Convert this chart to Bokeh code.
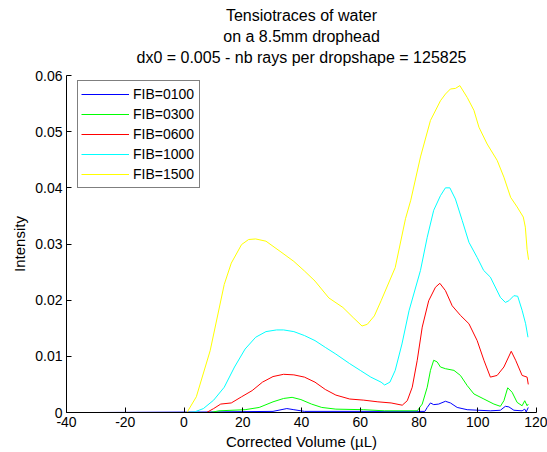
from bokeh.plotting import figure
from bokeh.models import (Range1d, FixedTicker, Legend, LegendItem, Title,
                          CustomJSTickFormatter)
from bokeh.embed import file_html
from bokeh.resources import INLINE

# ---------------- data ----------------
title_lines = ["Tensiotraces of water",
               "on a 8.5mm drophead",
               "dx0 = 0.005 - nb rays per dropshape = 125825"]
x_label = "Corrected Volume (\u00b5L)"
y_label = "Intensity"
x_ticks = [-40, -20, 0, 20, 40, 60, 80, 100, 120]
y_ticks = [0, 0.01, 0.02, 0.03, 0.04, 0.05, 0.06]

series_names = ["FIB=0100", "FIB=0300", "FIB=0600", "FIB=1000", "FIB=1500"]
series_colors = ["#0000ff", "#00ff00", "#ff0000", "#00ffff", "#ffff00"]

x_0100 = [-30, 10, 30.3, 35, 37.4, 41, 82, 82.8, 83.9, 85, 86.7, 89, 90.7, 93,
          96.4, 104.3, 107.7, 109.4, 110.6, 112.3, 115.1, 116, 116.5, 117.2]
y_0100 = [0, 0.0001, 0.0002, 0.0007, 0.0005, 0.0002, 0.0002, 0.0009, 0.0017,
          0.0014, 0.0015, 0.002, 0.0017, 0.0009, 0.0005, 0.0003, 0.0004, 0.0011,
          0.001, 0.0004, 0.0003, 0.0006, 0.0001, 0.0009]

x_0300 = [-30, 9, 11.9, 20.8, 25.6, 30.3, 33.9, 36.8, 39.8, 43.4, 46.9, 51.7,
          61.2, 68.3, 79.4, 81.1, 82.8, 83.9, 85, 86.2, 87.3, 89, 91.9, 94.1,
          96.4, 98.7, 102.1, 105.5, 107.7, 108.9, 110.2, 111.7, 113.4, 115.1,
          116, 116.8, 117.2]
y_0300 = [0, 0, 0.0003, 0.0005, 0.0009, 0.0019, 0.0025, 0.0027, 0.0023, 0.0015,
          0.0009, 0.0006, 0.0005, 0.0003, 0.0003, 0.0015, 0.0045, 0.0075, 0.0093,
          0.009, 0.0081, 0.0078, 0.0075, 0.0066, 0.0048, 0.0033, 0.0024, 0.0015,
          0.0011, 0.0021, 0.0044, 0.0036, 0.0018, 0.0012, 0.0021, 0.0012, 0.0015]

x_0600 = [-30, 7.7, 10.1, 12.5, 16.1, 19.6, 23.2, 26.7, 30.3, 33.9, 37.4, 41,
          44.6, 48.1, 51.7, 56.4, 61.2, 66, 70.5, 74.3, 76, 77.7, 79.4, 81.1,
          83.3, 85.6, 87.1, 89, 91.3, 94.1, 97, 99.8, 102.1, 104.3, 106.6, 108.9,
          111.4, 112.9, 115.1, 116.8, 117.2]
y_0600 = [0, 0, 0.0007, 0.0015, 0.0017, 0.0028, 0.0039, 0.0054, 0.0064, 0.0068,
          0.0067, 0.0063, 0.0054, 0.0041, 0.0031, 0.0024, 0.0022, 0.0019, 0.0017,
          0.0013, 0.0021, 0.0045, 0.0093, 0.0152, 0.0199, 0.0223, 0.023, 0.0217,
          0.019, 0.0173, 0.0158, 0.0128, 0.0093, 0.0063, 0.0066, 0.0081, 0.0109,
          0.0093, 0.0066, 0.0063, 0.005]

x_1000 = [-30, 1, 3.6, 6.6, 10.1, 13.7, 17.2, 20.8, 24.4, 27.9, 31.5, 33.9, 37.4,
          41, 44.6, 48.1, 51.7, 56.4, 60, 63.6, 67.1, 68.3, 70.1, 71.9, 74.2,
          76.6, 80.5, 82.8, 85, 87.3, 89, 90.5, 92.4, 94.7, 97, 99.8, 102, 104.3,
          107.7, 109.4, 110.6, 112.3, 113.6, 115.1, 116.3, 117.1]
y_1000 = [0, 0, 0.0001, 0.0007, 0.0022, 0.0045, 0.0081, 0.0113, 0.0134, 0.0144,
          0.0147, 0.0147, 0.0144, 0.0137, 0.0128, 0.0116, 0.0104, 0.0087, 0.0075,
          0.0063, 0.0054, 0.0049, 0.0054, 0.0075, 0.0122, 0.0181, 0.0253, 0.0312,
          0.036, 0.0386, 0.04, 0.04, 0.038, 0.0342, 0.0303, 0.0276, 0.0253,
          0.0241, 0.0205, 0.0196, 0.0199, 0.0208, 0.0207, 0.0182, 0.0158, 0.0134]

x_1500 = [-30, 1, 4.2, 8.9, 13.7, 16.1, 19.6, 22, 24.4, 27.9, 32.7, 37.4, 41,
          44.6, 49.3, 54.1, 57.6, 60.6, 62.4, 64.8, 67.1, 71.9, 75.4, 77.2, 80.5,
          83.9, 87.3, 89, 90.7, 92.4, 93.9, 96.4, 98.7, 100.4, 103.2, 106.6,
          108.9, 111.2, 113.4, 115.5, 116.2, 116.8, 117.3]
y_1500 = [0, 0, 0.0028, 0.011, 0.0228, 0.0266, 0.0299, 0.0308, 0.0309, 0.0305,
          0.0287, 0.0269, 0.0252, 0.0234, 0.0204, 0.0187, 0.0169, 0.0154, 0.0157,
          0.0172, 0.0199, 0.0258, 0.0345, 0.0378, 0.0455, 0.052, 0.0555, 0.0567,
          0.0576, 0.0577, 0.0582, 0.0561, 0.0538, 0.0508, 0.0478, 0.0449, 0.0419,
          0.0383, 0.0366, 0.0348, 0.033, 0.029, 0.0272]

xs = [x_0100, x_0300, x_0600, x_1000, x_1500]
ys = [y_0100, y_0300, y_0600, y_1000, y_1500]

FONT = "Liberation Sans"

p = figure(width=547, height=452, output_backend="svg", toolbar_location=None,
           x_range=Range1d(-40, 120), y_range=Range1d(0, 0.06),
           min_border_left=66, min_border_right=11, min_border_top=75,
           min_border_bottom=40, title=title_lines[0])
p.outline_line_color = None
p.grid.visible = False
p.background_fill_color = "white"
p.border_fill_color = "white"

# titles: p.title is the outermost line; lines added later stack outward
p.title.align = "center"
p.title.text_font = FONT
p.title.text_font_size = "16px"
p.title.text_font_style = "normal"
p.title.text_color = "#000000"
p.title.standoff = 2
# small spacer panel between the frame and the last title line
p.add_layout(Title(text=" ", text_font_size="1px", standoff=6), "above")
for line in [title_lines[2], title_lines[1]]:
    p.add_layout(Title(text=line, align="center", text_font=FONT,
                       text_font_size="16px", text_font_style="normal",
                       text_color="#000000", standoff=2), "above")

for ax in (p.xaxis[0], p.yaxis[0]):
    ax.axis_line_color = "black"
    ax.major_tick_line_color = "black"
    ax.minor_tick_line_color = None
    ax.major_tick_in = 5
    ax.major_tick_out = 0
    ax.major_label_text_font = FONT
    ax.major_label_text_font_size = "14px"
    ax.major_label_text_color = "black"
    ax.major_label_standoff = 4
    ax.axis_label_text_font = FONT
    ax.axis_label_text_font_size = "15px"
    ax.axis_label_text_font_style = "normal"
    ax.axis_label_text_color = "black"

p.xaxis.ticker = FixedTicker(ticks=x_ticks)
p.yaxis.ticker = FixedTicker(ticks=y_ticks)
p.xaxis.formatter = CustomJSTickFormatter(code="return String(tick);")
p.yaxis.formatter = CustomJSTickFormatter(
    code="return tick == 0 ? '0' : tick.toFixed(2);")
p.xaxis.axis_label = x_label
p.yaxis.axis_label = y_label
p.xaxis.axis_label_standoff = 3
p.yaxis.axis_label_standoff = 4

items = []
for name, color, x, y in zip(series_names, series_colors, xs, ys):
    r = p.line(x, y, line_color=color, line_width=1)
    items.append(LegendItem(label=name, renderers=[r]))

legend = Legend(items=items, location=(11, 224), padding=3, spacing=0,
                label_height=20, glyph_height=20, glyph_width=48,
                label_standoff=4, label_width=63, margin=0,
                label_text_font=FONT, label_text_font_size="14px",
                label_text_color="black", border_line_color="black",
                border_line_width=1, background_fill_color="white",
                background_fill_alpha=1.0)
p.add_layout(legend, "center")

open("out.html", "w").write(file_html(p, INLINE))
